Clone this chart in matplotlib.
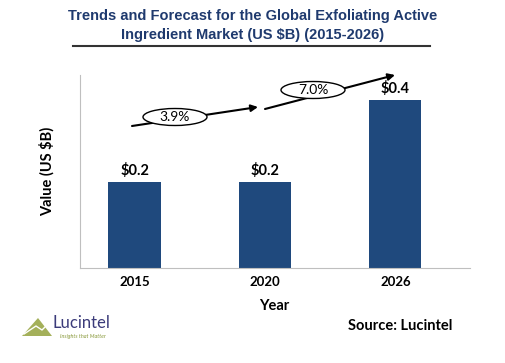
import matplotlib.pyplot as plt
from matplotlib.patches import Ellipse, Polygon

years = ["2015", "2020", "2026"]
values = [0.21, 0.21, 0.41]
labels = ["$0.2", "$0.2", "$0.4"]
cagr = ["3.9%", "7.0%"]

plt.rcParams['font.family'] = ['Lato', 'DejaVu Sans']
TITLE_FONT = ['Liberation Sans', 'DejaVu Sans']

fig = plt.figure(figsize=(5.05, 3.63), dpi=100)
ax = fig.add_axes([0.158, 0.262, 0.772, 0.531])

x = range(len(years))
ax.bar(x, values, width=0.4, color="#1f497d")
for i, (v, lab) in enumerate(zip(values, labels)):
    ax.text(i, v + 0.01, lab, ha="center", va="bottom", fontsize=10.5,
            fontweight="bold")

ax.set_xlim(-0.42, 2.57)
ax.set_ylim(0, 0.47)
ax.set_xticks(list(x))
ax.set_xticklabels(years, fontweight="bold", fontsize=9.5)
ax.tick_params(axis="x", length=0, pad=6)
ax.set_yticks([])
ax.spines[["top", "right"]].set_visible(False)
ax.spines["left"].set_color("#bfbfbf")
ax.spines["bottom"].set_color("#bfbfbf")
ax.set_xlabel("Year", fontweight="bold", fontsize=10.5, labelpad=8)
ax.set_ylabel("Value (US $B)", fontweight="bold", fontsize=10.5, labelpad=18)

# growth arrows in figure pixel coords
def px(xp, yp):
    return (xp / 505, 1 - yp / 363)

arrows = [((132, 126), (258, 107), (175, 117)),
          ((265, 109), (395, 75), (313, 90))]
for (s, e, c), txt in zip(arrows, cagr):
    ax.annotate("", xy=px(*e), xytext=px(*s), xycoords="figure fraction",
                textcoords="figure fraction",
                arrowprops=dict(arrowstyle="-|>", color="black", lw=1.5,
                                mutation_scale=10, shrinkA=0, shrinkB=0))
    el = Ellipse(px(*c), 64 / 505, 17 / 363, transform=fig.transFigure,
                 facecolor="white", edgecolor="black", lw=1, zorder=5)
    fig.add_artist(el)
    fig.text(*px(*c), txt, ha="center", va="center", fontsize=10, zorder=6)

# title
fig.text(0.5, 1 - 16 / 363, "Trends and Forecast for the Global Exfoliating Active",
         ha="center", va="center", fontsize=10.5, fontweight="bold",
         color="#1f3a6e", family=TITLE_FONT)
fig.text(0.5, 1 - 35 / 363, "Ingredient Market (US $B) (2015-2026)",
         ha="center", va="center", fontsize=10.5, fontweight="bold",
         color="#1f3a6e", family=TITLE_FONT)
fig.add_artist(plt.Line2D([73 / 505, 430 / 505], [1 - 46 / 363, 1 - 46 / 363],
                          color="#333333", lw=1.5))

fig.text(400 / 505, 1 - 326 / 363, "Source: Lucintel", ha="center", va="center",
         fontsize=10.5, fontweight="bold")

# logo
tri = Polygon([px(22, 336), px(38, 318), px(52, 336)], closed=True,
              transform=fig.transFigure, facecolor="#a4b05a", edgecolor="none")
fig.add_artist(tri)
fig.add_artist(plt.Line2D([px(24, 334)[0], px(36, 326)[0], px(42, 330)[0], px(52, 320)[0]],
                          [px(24, 334)[1], px(36, 326)[1], px(42, 330)[1], px(52, 320)[1]],
                          color="white", lw=1))
fig.text(53 / 505, 1 - 323 / 363, "Lucintel", ha="left", va="center",
         fontsize=12, color="#3b3b7a")
fig.text(60 / 505, 1 - 336 / 363, "Insights that Matter", ha="left", va="center",
         fontsize=4, style="italic", color="#8a9a3c")

fig.savefig("out.png", dpi=100)
